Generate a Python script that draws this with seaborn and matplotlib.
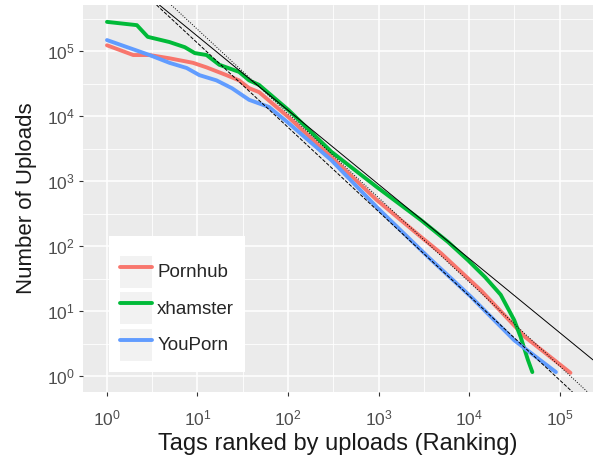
import numpy as np
import pandas as pd
import matplotlib
matplotlib.use('Agg')
import matplotlib.pyplot as plt
import seaborn as sns
from matplotlib.ticker import FixedLocator, LogFormatterMathtext, NullFormatter
from matplotlib.patches import Rectangle
from matplotlib.lines import Line2D

# ranks / uploads (log-log)
pornhub_rank = [1, 1.95, 2.95, 4.9, 8.91, 12.6, 20.9, 28.8, 37.2, 47.9, 102, 302, 955, 2950, 4900, 13500, 41700, 132000]
pornhub_uploads = [123000, 87100, 87100, 77600, 66100, 56200, 42700, 35500, 26900, 23400, 9550, 2340, 513, 138, 77.6, 20.9, 3.98, 1.12]

xhamster_rank = [1, 2.14, 2.82, 4.9, 7.24, 9.33, 12.6, 17.4, 28.8, 37.2, 47.9, 102, 302, 955, 2950, 5890, 9770, 15100, 22400, 31600, 37200, 44700, 50100]
xhamster_uploads = [282000, 251000, 166000, 138000, 115000, 93300, 87100, 61700, 47900, 35500, 30200, 12300, 2820, 813, 251, 115, 60.3, 33.1, 17.8, 7.24, 3.98, 1.78, 1.15]

youporn_rank = [1, 2.95, 4.9, 7.59, 10.5, 16.2, 24.0, 37.2, 61.7, 102, 302, 955, 3550, 10500, 31600, 91200]
youporn_uploads = [148000, 87100, 66100, 55000, 42700, 35500, 26900, 17800, 13800, 7760, 2090, 398, 67.6, 16.6, 3.55, 1.15]

sites = ['Pornhub', 'xhamster', 'YouPorn']
colors = ['#F8766D', '#00BA38', '#619CFF']

# power-law fits: log10(uploads) = intercept + slope * log10(rank)
fit_intercepts = [6.37, 6.63, 6.42]
fit_slopes = [-1.14, -1.295, -1.296]
fit_styles = ['-', ':', '--']

df = pd.concat([
    pd.DataFrame({'rank': pornhub_rank, 'uploads': pornhub_uploads, 'site': 'Pornhub'}),
    pd.DataFrame({'rank': xhamster_rank, 'uploads': xhamster_uploads, 'site': 'xhamster'}),
    pd.DataFrame({'rank': youporn_rank, 'uploads': youporn_uploads, 'site': 'YouPorn'}),
])

sns.set_theme(style='darkgrid')
plt.rcParams['font.family'] = ['Liberation Sans', 'DejaVu Sans']
plt.rcParams['mathtext.default'] = 'regular'

fig = plt.figure(figsize=(5.98, 4.62), dpi=100)
ax = fig.add_axes([83 / 598, 70 / 462, 510 / 598, 387 / 462])
ax.set_facecolor('#EBEBEB')

sns.lineplot(data=df, x='rank', y='uploads', hue='site', hue_order=sites,
             palette=dict(zip(sites, colors)), estimator=None, sort=False,
             lw=2.8, legend=False, ax=ax)

ax.set_xscale('log')
ax.set_yscale('log')
ax.set_xlim(10 ** -0.265, 10 ** 5.37)
ax.set_ylim(10 ** -0.246, 10 ** 5.71)

for b, m, ls in zip(fit_intercepts, fit_slopes, fit_styles):
    ax.axline((1, 10 ** b), (1e5, 10 ** (b + 5 * m)), color='black', lw=0.7, ls=ls)

major = [10.0 ** k for k in range(0, 6)]
minor = [10.0 ** (k + 0.5) for k in range(-1, 6)]
for axis in (ax.xaxis, ax.yaxis):
    axis.set_major_locator(FixedLocator(major))
    axis.set_minor_locator(FixedLocator(minor))
    axis.set_major_formatter(LogFormatterMathtext())
    axis.set_minor_formatter(NullFormatter())

ax.grid(which='major', color='white', lw=1.1)
ax.grid(which='minor', color='white', lw=0.6)
ax.tick_params(which='major', length=3, width=0.8, color='#333333',
               labelcolor='#4D4D4D', labelsize=12.5, bottom=True, left=True)
ax.tick_params(axis='x', which='major', pad=9)
ax.tick_params(axis='y', which='major', pad=3)
ax.tick_params(which='minor', length=0)
for s in ax.spines.values():
    s.set_visible(False)

ax.set_xlabel('Tags ranked by uploads (Ranking)', fontsize=17, color='#1A1A1A', labelpad=3)
ax.set_ylabel('Number of Uploads', fontsize=16, color='#1A1A1A', labelpad=7)

handles = []
for c in colors:
    box = Rectangle((0, 0), 1, 1, facecolor='#F2F2F2', edgecolor='none')
    ln = Line2D([], [], color=c, lw=2.8)
    handles.append((box, ln))
leg = ax.legend(handles, sites, loc='lower left', bbox_to_anchor=(0.051, 0.052),
                frameon=True, fontsize=13.5, handlelength=1.7, handleheight=2.25,
                labelspacing=0.24, handletextpad=0.27, borderpad=0.6,
                title=' ', title_fontsize=3, fancybox=False, borderaxespad=0)
leg.get_frame().set_facecolor('white')
leg.get_frame().set_edgecolor('none')
leg.get_frame().set_alpha(1)

fig.savefig('out.png', dpi=100)
